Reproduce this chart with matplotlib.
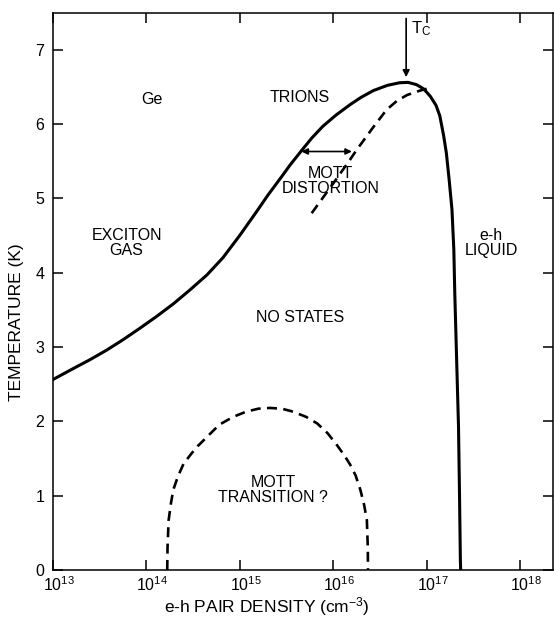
import numpy as np
import matplotlib
matplotlib.use("Agg")
import matplotlib.pyplot as plt
import matplotlib.transforms as mtransforms

plt.rcParams["font.family"] = ["Liberation Sans", "DejaVu Sans"]
plt.rcParams["mathtext.fontset"] = "custom"
plt.rcParams["mathtext.rm"] = "Liberation Sans"
plt.rcParams["mathtext.it"] = "Liberation Sans"
plt.rcParams["mathtext.bf"] = "Liberation Sans"

# log10 of e-h pair density (cm^-3) and temperature (K)
phase_logn = [13.00, 13.22, 13.40, 13.58, 13.755, 13.93, 14.11, 14.29, 14.47, 14.65,
              14.82, 15.00, 15.18, 15.30, 15.43, 15.54, 15.66, 15.77, 15.89, 16.03,
              16.18, 16.30, 16.43, 16.58, 16.71, 16.80, 16.89, 16.97, 17.04, 17.10,
              17.14, 17.18, 17.21, 17.24, 17.27, 17.29, 17.30, 17.32, 17.34, 17.35,
              17.36, 17.363]
phase_T = [2.56, 2.71, 2.83, 2.96, 3.10, 3.25, 3.41, 3.58, 3.77, 3.97,
           4.20, 4.50, 4.82, 5.04, 5.26, 5.45, 5.64, 5.81, 5.97, 6.12,
           6.26, 6.36, 6.45, 6.52, 6.555, 6.56, 6.53, 6.47, 6.37, 6.25,
           6.11, 5.85, 5.61, 5.25, 4.85, 4.31, 3.73, 2.83, 1.93, 1.08,
           0.13, 0.0]

mott_logn = [14.225, 14.228, 14.24, 14.265, 14.29, 14.34, 14.40, 14.48, 14.554, 14.65,
             14.73, 14.79, 14.93, 15.07, 15.20, 15.32, 15.45, 15.57, 15.71, 15.83,
             15.94, 16.04, 16.12, 16.18, 16.24, 16.29, 16.33, 16.36, 16.37, 16.372]
mott_T = [0.0, 0.30, 0.67, 0.90, 1.08, 1.26, 1.43, 1.56, 1.67, 1.79,
          1.89, 1.96, 2.06, 2.13, 2.17, 2.18, 2.17, 2.13, 2.06, 1.97,
          1.84, 1.68, 1.54, 1.42, 1.27, 1.08, 0.88, 0.67, 0.30, 0.0]

dist_logn = [15.77, 16.00, 16.18, 16.25, 16.43, 16.57, 16.68, 16.79, 16.93, 17.02]
dist_T = [4.80, 5.20, 5.52, 5.65, 5.96, 6.19, 6.31, 6.39, 6.45, 6.48]

arrow_logn = [15.66, 16.20]
arrow_T = 5.63
tc_logn = 16.78

xtick_exp = [13, 14, 15, 16, 17, 18]
yticks = [0, 1, 2, 3, 4, 5, 6, 7]

fig = plt.figure(figsize=(5.54, 6.19), dpi=100)
ax = fig.add_axes([0.0951, 0.0792, 0.903, 0.9006])

ax.plot(10 ** np.array(phase_logn), phase_T, color="black", lw=2.2,
        solid_joinstyle="round")
ax.plot(10 ** np.array(mott_logn), mott_T, color="black", lw=1.9,
        dashes=(3.8, 2.4))
ax.plot(10 ** np.array(dist_logn), dist_T, color="black", lw=1.9,
        dashes=(3.8, 2.4))

# Mott distortion double arrow
ax.annotate("", xy=(10 ** arrow_logn[0], arrow_T), xytext=(10 ** arrow_logn[1], arrow_T),
            arrowprops=dict(arrowstyle="<|-|>", color="black", lw=1.2,
                            mutation_scale=9, shrinkA=0, shrinkB=0))
# critical point arrow
ax.annotate("", xy=(10 ** tc_logn, 6.63), xytext=(10 ** tc_logn, 7.42),
            arrowprops=dict(arrowstyle="-|>", color="black", lw=1.2,
                            mutation_scale=10, shrinkA=0, shrinkB=0))
ax.text(10 ** 16.83, 7.28, r"T$_\mathrm{C}$", fontsize=12, ha="left", va="center")

lab = dict(fontsize=11.5, ha="center", va="center", linespacing=1.0)
ax.text(10 ** 14.06, 6.33, "Ge", **lab)
ax.text(10 ** 15.645, 6.35, "TRIONS", **lab)
ax.text(10 ** 13.79, 4.40, "EXCITON\nGAS", **lab)
ax.text(10 ** 15.97, 5.23, "MOTT\nDISTORTION", **lab)
ax.text(10 ** 17.69, 4.40, "e-h\nLIQUID", **lab)
ax.text(10 ** 15.65, 3.39, "NO STATES", **lab)
ax.text(10 ** 15.36, 1.08, "MOTT\nTRANSITION ?", **lab)

ax.set_xscale("log")
ax.set_xlim(1e13, 10 ** 18.35)
ax.set_ylim(0, 7.5)
ax.set_xticks([10.0 ** e for e in xtick_exp])
ax.set_xticklabels([r"$10^{%d}$" % e for e in xtick_exp])
ax.minorticks_off()
ax.set_yticks(yticks)
ax.set_yticklabels([str(v) for v in yticks])
ax.tick_params(direction="in", length=7.5, width=1.1, top=True, right=True,
               labelsize=11.5)
ax.tick_params(axis="x", pad=4)
ax.tick_params(axis="y", pad=6)
for s in ax.spines.values():
    s.set_linewidth(1.1)

# the "10" sits over the tick, exponent hangs to the right
shift = mtransforms.ScaledTranslation(0.06, 0, fig.dpi_scale_trans)
for t in ax.get_xticklabels():
    t.set_transform(t.get_transform() + shift)

ax.set_xlabel(r"e-h PAIR DENSITY (cm$^{-3}$)", fontsize=12.5)
ax.xaxis.set_label_coords(0.428, -0.066)
ax.xaxis.label.set_va("center")
ax.set_ylabel("TEMPERATURE (K)", fontsize=12.5)
ax.yaxis.set_label_coords(-0.072, 0.445)
ax.yaxis.label.set_va("center")

fig.savefig("out.png", dpi=100)
